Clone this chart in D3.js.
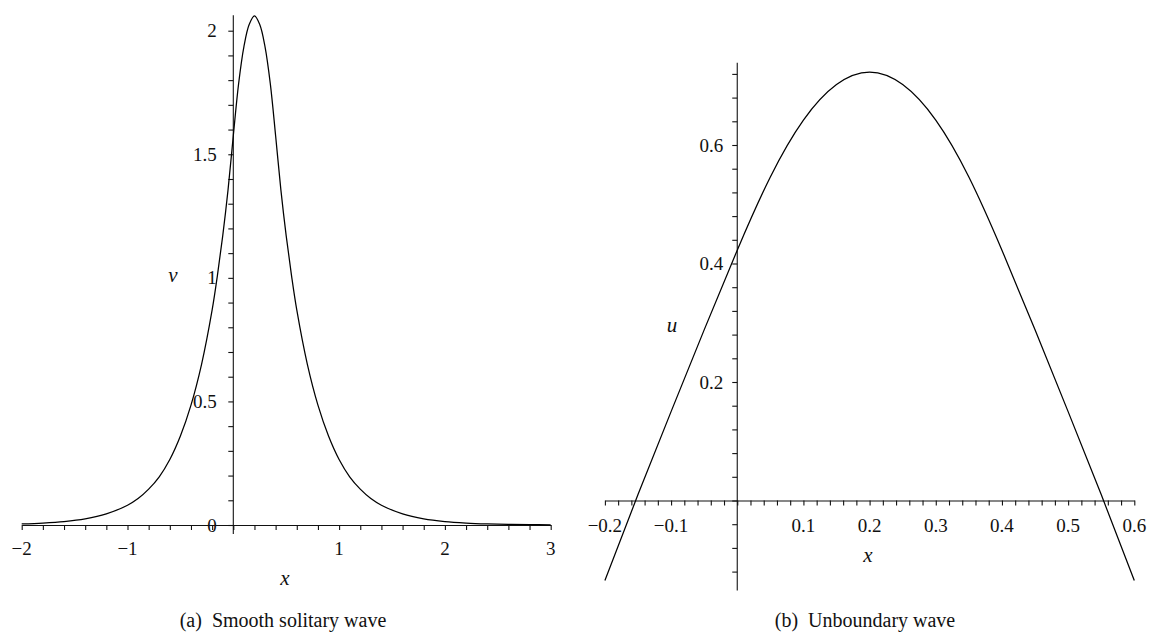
<!DOCTYPE html>
<html>
<head>
<meta charset="utf-8">
<script src="https://cdn.jsdelivr.net/npm/d3@7"></script>
<style>
  html, body { margin: 0; padding: 0; background: #fff; }
  svg { display: block; }
  text { font-family: "Liberation Serif", "DejaVu Serif", serif; fill: #111; }
</style>
</head>
<body>
<svg id="chart" width="1151" height="634"></svg>
<script>
// ---------- Data ----------
// Panel (a): smooth solitary wave v(x)
const waveAX = [-2.0, -1.8, -1.6, -1.4, -1.2, -1.0, -0.9, -0.8, -0.7, -0.6, -0.5, -0.4, -0.3, -0.2, -0.15, -0.1, -0.05, 0.0, 0.05, 0.1, 0.15, 0.2, 0.25, 0.3, 0.35, 0.4, 0.45, 0.5, 0.55, 0.6, 0.7, 0.8, 0.9, 1.0, 1.1, 1.2, 1.3, 1.4, 1.6, 1.8, 2.0, 2.2, 2.4, 2.6, 2.8, 3.0];
const waveAV = [0.0045, 0.008, 0.014, 0.025, 0.045, 0.080, 0.107, 0.145, 0.195, 0.265, 0.360, 0.485, 0.650, 0.870, 1.010, 1.170, 1.355, 1.575, 1.785, 1.935, 2.025, 2.060, 2.025, 1.935, 1.785, 1.575, 1.355, 1.170, 1.010, 0.870, 0.650, 0.485, 0.360, 0.265, 0.195, 0.145, 0.107, 0.080, 0.045, 0.025, 0.014, 0.008, 0.0045, 0.0025, 0.0014, 0.0008];
// Panel (b): unboundary wave u(x)
const waveBX = [-0.2, -0.15, -0.1, -0.05, 0.0, 0.05, 0.1, 0.15, 0.2, 0.25, 0.3, 0.35, 0.4, 0.45, 0.5, 0.55, 0.6];
const waveBU = [-0.135, 0.010, 0.150, 0.288, 0.4225, 0.546, 0.642, 0.702, 0.723, 0.702, 0.642, 0.546, 0.4225, 0.288, 0.150, 0.010, -0.135];

// Tick values and labels
const aXMajor = [-2, -1, 1, 2, 3];
const aXLabels = ["\u22122", "\u22121", "1", "2", "3"];
const aYMajor = [0, 0.5, 1, 1.5, 2];
const aYLabels = ["0", "0.5", "1", "1.5", "2"];
const bXMajor = [-0.2, -0.1, 0.1, 0.2, 0.3, 0.4, 0.5, 0.6];
const bXLabels = ["\u22120.2", "\u22120.1", "0.1", "0.2", "0.3", "0.4", "0.5", "0.6"];
const bYMajor = [0.2, 0.4, 0.6];
const bYLabels = ["0.2", "0.4", "0.6"];
const captions = ["(a)\u2002Smooth solitary wave", "(b)\u2002Unboundary wave"];

// ---------- Layout ----------
const svg = d3.select("#chart");
const ink = "#111";
const tickFont = 19;

function minorTicks(a, b, step) {
  const out = [];
  const n = Math.round((b - a) / step);
  for (let i = 0; i <= n; i++) out.push(+(a + i * step).toFixed(6));
  return out;
}

function drawPanel(cfg) {
  const g = svg.append("g");
  const x = d3.scaleLinear().domain(cfg.xDomain).range(cfg.xRange);
  const y = d3.scaleLinear().domain(cfg.yDomain).range(cfg.yRange);
  const x0 = x(0), y0 = y(0);

  // x axis line + ticks (downwards)
  const xAxis = d3.axisBottom(x)
    .tickValues(minorTicks(cfg.xDomain[0], cfg.xDomain[1], cfg.xStep))
    .tickSize(5).tickSizeOuter(0).tickFormat("");
  const gx = g.append("g").attr("transform", `translate(0,${y0})`).call(xAxis);
  gx.selectAll("path, line").attr("stroke", ink).attr("stroke-width", 1.1);

  // y axis ticks (leftwards)
  const yAxis = d3.axisLeft(y)
    .tickValues(minorTicks(cfg.yTickFrom, cfg.yTickTo, cfg.yStep))
    .tickSize(5).tickSizeOuter(0).tickFormat("");
  const gy = g.append("g").attr("transform", `translate(${x0},0)`).call(yAxis);
  gy.select("path.domain").remove();
  gy.selectAll("line").attr("stroke", ink).attr("stroke-width", 1.1);
  g.append("line")
    .attr("x1", x0).attr("x2", x0)
    .attr("y1", y(cfg.yAxisTop)).attr("y2", y(cfg.yAxisBottom))
    .attr("stroke", ink).attr("stroke-width", 1.1);

  // tick labels
  g.selectAll("text.xl").data(cfg.xMajor).enter().append("text")
    .attr("x", d => x(d)).attr("y", y0 + cfg.xLabelDy)
    .attr("text-anchor", "middle").attr("font-size", tickFont)
    .text((d, i) => cfg.xLabels[i]);
  g.selectAll("text.yl").data(cfg.yMajor).enter().append("text")
    .attr("x", x0 - cfg.yLabelDx).attr("y", d => y(d) + 6.5)
    .attr("text-anchor", "end").attr("font-size", tickFont)
    .text((d, i) => cfg.yLabels[i]);

  // axis titles
  g.append("text").attr("x", cfg.xTitle[0]).attr("y", cfg.xTitle[1])
    .attr("text-anchor", "middle").attr("font-style", "italic").attr("font-size", 21).text("x");
  g.append("text").attr("x", cfg.yTitle[0]).attr("y", cfg.yTitle[1])
    .attr("text-anchor", "middle").attr("font-style", "italic").attr("font-size", 21).text(cfg.yName);

  // curve
  const pts = cfg.xs.map((d, i) => [d, cfg.ys[i]]);
  g.append("path").datum(pts)
    .attr("fill", "none").attr("stroke", "#000").attr("stroke-width", 1.25)
    .attr("d", d3.line().x(d => x(d[0])).y(d => y(d[1])).curve(cfg.curve));

  // caption
  g.append("text").attr("x", cfg.capX).attr("y", 627)
    .attr("text-anchor", "middle").attr("font-size", 20).text(cfg.caption);
}

drawPanel({
  xDomain: [-2, 3], xRange: [21.7, 550.7], xStep: 0.2,
  yDomain: [0, 2], yRange: [525, 30.7],
  yTickFrom: 0, yTickTo: 2, yStep: 0.1,
  yAxisTop: 2.063, yAxisBottom: -0.036,
  xMajor: aXMajor, xLabels: aXLabels, xLabelDy: 29.5,
  yMajor: aYMajor, yLabels: aYLabels, yLabelDx: 16.5,
  xTitle: [285, 585], yTitle: [173, 282], yName: "v",
  xs: waveAX, ys: waveAV, curve: d3.curveCatmullRom.alpha(0.5),
  capX: 283, caption: captions[0]
});

drawPanel({
  xDomain: [-0.2, 0.6], xRange: [604.9, 1134.3], xStep: 0.02,
  yDomain: [0, 0.6], yRange: [500.5, 145],
  yTickFrom: -0.12, yTickTo: 0.72, yStep: 0.04,
  yAxisTop: 0.739, yAxisBottom: -0.152,
  xMajor: bXMajor, xLabels: bXLabels, xLabelDy: 31.5,
  yMajor: bYMajor, yLabels: bYLabels, yLabelDx: 14,
  xTitle: [868, 562], yTitle: [672, 332], yName: "u",
  xs: waveBX, ys: waveBU, curve: d3.curveNatural,
  capX: 865, caption: captions[1]
});
</script>
</body>
</html>
